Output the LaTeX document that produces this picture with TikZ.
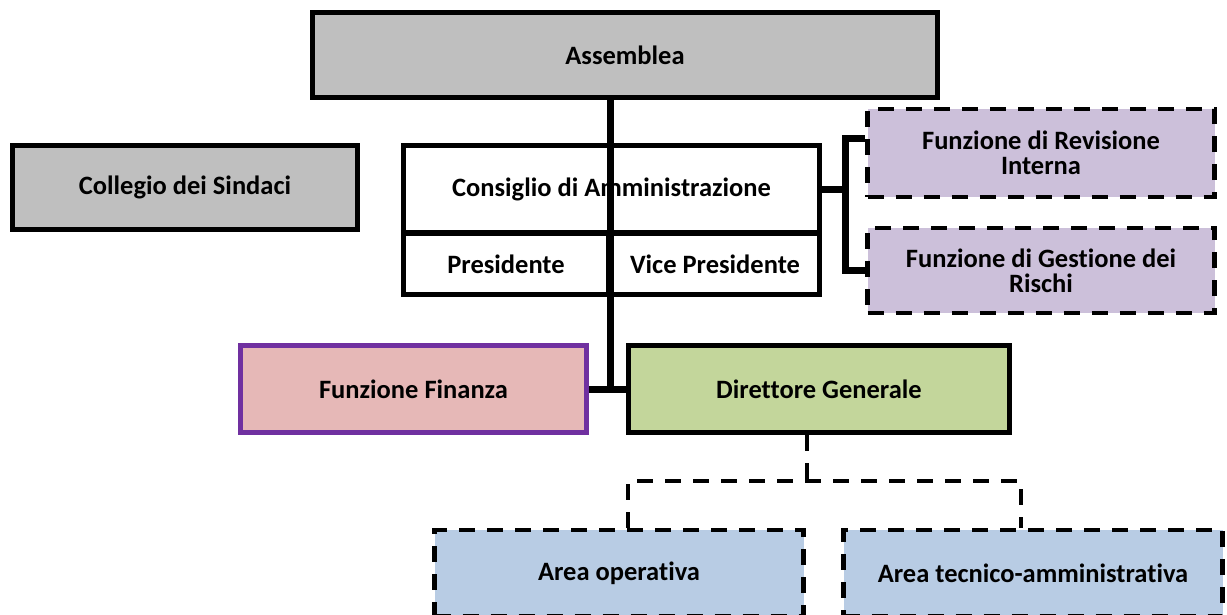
\documentclass[tikz,border=0pt]{standalone}
\usepackage{fontspec}
\setmainfont{Carlito}[Ligatures=NoCommon]
\usetikzlibrary{positioning}

\definecolor{boxgray}{HTML}{BFBFBF}
\definecolor{lilla}{HTML}{CCC0DA}
\definecolor{rosa}{HTML}{E6B8B7}
\definecolor{viola}{HTML}{7030A0}
\definecolor{verde}{HTML}{C3D69B}
\definecolor{azzurro}{HTML}{B8CCE4}

\tikzset{
  ufficio/.style={draw=black, line width=5pt, rectangle, align=center,
    font=\bfseries\fontsize{26.5}{25}\selectfont, inner sep=0pt},
  funzione/.style={ufficio, line width=4.5pt, dash pattern=on 16pt off 12pt},
  tronco/.style={line width=7pt},
  tratteggio/.style={line width=4.5pt, dash pattern=on 16pt off 12pt},
}

\begin{document}
\begin{tikzpicture}[x=1pt, y=-1pt]
    \useasboundingbox (0,0) rectangle (1227,614);

    \node[ufficio, fill=boxgray, minimum width=625pt, minimum height=85pt] (assemblea) at (625,55) {Assemblea};
    \node[ufficio, fill=boxgray, minimum width=345pt, minimum height=84pt] (collegio) at (185,187.5) {Collegio dei Sindaci};

    \node[ufficio, fill=white, minimum width=416pt, minimum height=87pt] (cda) at (611.5,189) {Consiglio di Amministrazione};
    \node[ufficio, fill=white, minimum width=205pt, minimum height=61pt] (pres) at (506,264) {Presidente};
    \node[ufficio, fill=white, minimum width=209pt, minimum height=61pt] (vice) at (715,264) {Vice Presidente};

    \node[funzione, fill=lilla, minimum width=347pt, minimum height=88pt] (revisione) at (1041,153) {Funzione di Revisione\\Interna};
    \node[funzione, fill=lilla, minimum width=347pt, minimum height=85pt] (rischi) at (1041,270.5) {Funzione di Gestione dei\\Rischi};

    \node[ufficio, draw=viola, fill=rosa, minimum width=346pt, minimum height=87pt] (finanza) at (413.5,389) {Funzione Finanza};
    \node[ufficio, fill=verde, minimum width=381pt, minimum height=87pt] (dg) at (819,389) {Direttore Generale};

    \node[funzione, fill=azzurro, minimum width=369pt, minimum height=86pt] (areaop) at (619,573) {Area operativa};
    \node[funzione, fill=azzurro, minimum width=379pt, minimum height=86pt] (areatec) at (1033,573) {Area tecnico-amministrativa};

    % linea gerarchica principale
    \coordinate (snodo) at (610,389);
    \draw[tronco] (assemblea.south -| snodo) -- (snodo);
    \draw[tronco] (finanza.east) -- (dg.west);

    % controlli interni
    \coordinate (graffa) at (845,189);
    \coordinate (graffasu) at (845,138);
    \coordinate (graffagiu) at (845,270.5);
    \draw[tronco] (cda.east) -- (graffa);
    \draw[tronco] (revisione.west |- graffasu) -- (graffasu) -- (graffagiu) -- (rischi.west);

    % aree operative
    \coordinate (ramo) at (807,481);
    \coordinate (ramosx) at (628,481);
    \coordinate (ramodx) at (1021,481);
    \draw[tratteggio] (dg.south -| ramo) -- (ramo);
    \draw[tratteggio] (ramosx |- areaop.north) -- (ramosx) -- (ramodx) -- (ramodx |- areatec.north);
\end{tikzpicture}
\end{document}
